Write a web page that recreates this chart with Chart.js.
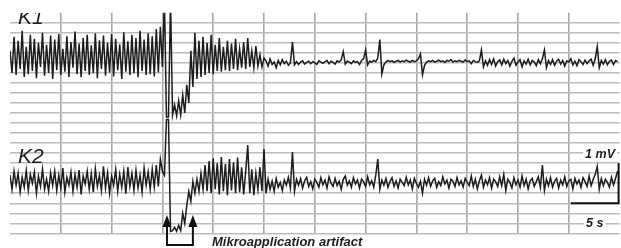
<!DOCTYPE html>
<html>
<head>
<meta charset="utf-8">
<script src="https://cdn.jsdelivr.net/npm/chart.js@4.4.1/dist/chart.umd.min.js"></script>
<style>
  html, body { margin: 0; padding: 0; background: #fff; }
</style>
</head>
<body>
<canvas id="trace" width="621" height="248"></canvas>
<script>
// Two recording channels, sampled every 0.2 s, values in mV around each channel's baseline

const sampleStep = 0.2;
const channelNames = ['K1', 'K2'];

const k1Values = [
    0.30, -0.25, 0.65, -0.30, 0.55, -0.15, 0.80, -0.35, 0.40, -0.28,
    0.70, -0.20, 0.60, -0.38, 0.50, -0.10, 0.75, -0.32, 0.45, -0.25,
    0.68, -0.40, 0.58, -0.18, 0.72, -0.30, 0.35, -0.22, 0.66, -0.35,
    0.52, -0.12, 0.78, -0.28, 0.48, -0.36, 0.62, -0.20, 0.70, -0.30,
    0.44, -0.26, 0.74, -0.38, 0.56, -0.15, 0.68, -0.32, 0.50, -0.24,
    0.72, -0.34, 0.60, -0.18, 0.46, -0.40, 0.76, -0.22, 0.54, -0.30,
    0.70, -0.26, 0.62, -0.36, 0.80, -0.20, 0.58, -0.30, 0.74, -0.28,
    0.66, -0.34, 0.84, -0.24, 0.90, -0.10, 1.60, -1.35, -1.35, 1.60,
    -1.30, -1.05, -1.32, -0.95, -1.30, -0.80, -1.25, -0.55, -1.00, 0.30,
    -0.60, 0.75, -0.40, 0.55, -0.35, 0.65, -0.30, 0.50, -0.25, 0.70,
    -0.28, 0.45, -0.20, 0.62, -0.22, 0.40, -0.18, 0.55, -0.20, 0.48,
    -0.15, 0.60, -0.18, 0.35, -0.12, 0.52, -0.15, 0.62, -0.10, 0.30,
    -0.12, 0.42, -0.08, 0.20, -0.10, 0.12, 0.05, -0.08, 0.10, -0.04,
    0.02, -0.12, 0.06, -0.05, 0.08, -0.02, 0.04, -0.06, 0.00, 0.52,
    -0.05, 0.03, -0.04, 0.02, 0.05, -0.03, 0.01, 0.04, -0.02, 0.03,
    0.00, -0.04, 0.05, 0.02, -0.01, 0.03, 0.06, -0.02, 0.04, 0.01,
    -0.03, 0.05, 0.02, 0.08, 0.28, -0.03, 0.04, 0.02, -0.02, 0.05,
    0.01, 0.03, -0.04, 0.06, 0.10, 0.32, -0.05, 0.04, 0.02, 0.06,
    0.03, 0.12, 0.58, -0.28, -0.05, 0.02, 0.06, 0.03, 0.05, 0.01,
    0.04, 0.06, 0.02, 0.05, 0.03, 0.07, 0.04, 0.02, 0.06, 0.03,
    0.05, 0.10, 0.22, -0.30, -0.06, 0.02, 0.05, 0.03, 0.06, 0.02,
    0.04, 0.07, 0.03, 0.05, 0.01, 0.06, 0.04, 0.08, 0.02, 0.05,
    0.03, 0.06, 0.04, 0.02, 0.07, 0.03, 0.05, -0.02, 0.06, 0.03,
    0.01, 0.05, 0.32, -0.10, 0.05, -0.06, 0.08, -0.04, 0.10, -0.08,
    0.03, 0.07, -0.05, 0.09, -0.02, 0.06, -0.08, 0.04, 0.12, -0.06,
    0.02, 0.08, -0.10, 0.05, -0.03, 0.09, -0.05, 0.06, 0.02, -0.07,
    0.08, -0.02, 0.10, 0.32, -0.12, 0.06, -0.04, 0.08, -0.06, 0.04,
    0.09, -0.03, 0.06, -0.08, 0.05, 0.02, 0.10, -0.05, 0.04, -0.07,
    0.08, 0.03, -0.04, 0.07, -0.02, 0.05, 0.09, -0.06, 0.10, 0.40,
    -0.12, 0.06, -0.03, 0.08, -0.05, 0.04, 0.07, -0.04, 0.06, 0.03
];

const k2Values = [
    0.20, -0.15, 0.30, -0.05, 0.25, -0.22, 0.15, -0.10, 0.32, -0.18,
    0.22, 0.00, 0.28, -0.25, 0.18, -0.08, 0.35, -0.15, 0.10, -0.20,
    0.26, -0.05, 0.30, -0.18, 0.20, -0.12, 0.38, -0.22, 0.15, -0.05,
    0.28, -0.20, 0.22, -0.10, 0.33, -0.28, 0.18, -0.02, 0.30, -0.15,
    0.24, -0.22, 0.36, -0.08, 0.20, -0.18, 0.42, -0.12, 0.26, -0.25,
    0.18, -0.05, 0.34, -0.20, 0.22, -0.10, 0.30, -0.26, 0.40, -0.08,
    0.25, -0.18, 0.32, -0.12, 0.20, -0.22, 0.38, -0.05, 0.28, -0.15,
    0.35, -0.10, 0.45, -0.08, 0.60, 0.30, 0.20, 1.59, 1.59, -1.20,
    -1.18, -1.10, -1.20, -1.05, -1.18, -0.75, -1.00, -0.55, -0.20, -0.45,
    0.05, -0.25, 0.10, -0.20, 0.25, -0.15, 0.45, -0.20, 0.55, -0.25,
    0.62, -0.15, 0.50, -0.28, 0.65, -0.20, 0.48, -0.30, 0.60, -0.18,
    0.52, -0.25, 0.64, -0.22, 0.40, -0.28, 0.30, 0.95, -0.25, 0.35,
    -0.30, 0.25, -0.15, 0.40, -0.20, 0.85, -0.25, 0.10, -0.15, 0.05,
    -0.20, 0.12, -0.10, 0.02, -0.18, 0.08, -0.05, 0.15, -0.12, 0.78,
    -0.20, 0.10, -0.05, 0.12, -0.12, 0.06, 0.15, -0.08, 0.04, -0.14,
    0.10, 0.02, -0.10, 0.14, -0.04, 0.08, -0.12, 0.16, 0.00, -0.08,
    0.12, -0.06, 0.05, -0.15, 0.10, 0.18, -0.05, 0.06, -0.10, 0.14,
    -0.02, 0.08, -0.12, 0.10, 0.04, -0.08, 0.16, -0.04, 0.06, -0.10,
    0.20, 0.60, -0.15, 0.08, -0.05, 0.12, -0.10, 0.04, 0.14, -0.08,
    0.06, -0.12, 0.10, 0.02, -0.06, 0.15, -0.04, 0.08, -0.14, 0.12,
    0.00, -0.10, 0.05, -0.25, 0.10, -0.05, 0.14, -0.08, 0.06, 0.12,
    -0.10, 0.04, -0.06, 0.16, -0.02, 0.08, -0.12, 0.10, 0.05, -0.08,
    0.14, -0.04, 0.06, -0.10, 0.12, 0.02, -0.06, 0.18, -0.08, 0.10,
    -0.14, 0.06, 0.20, -0.10, 0.08, -0.04, 0.14, -0.12, 0.10, 0.04,
    -0.08, 0.16, -0.06, 0.22, -0.18, 0.10, 0.02, -0.12, 0.14, -0.04,
    0.08, -0.10, 0.18, -0.06, 0.10, -0.14, 0.06, 0.12, -0.08, 0.04,
    0.16, -0.10, 0.45, -0.18, 0.10, -0.06, 0.14, -0.10, 0.05, 0.12,
    -0.12, 0.08, -0.04, 0.16, -0.08, 0.06, 0.10, -0.14, 0.12, -0.02,
    0.08, -0.10, 0.14, 0.04, -0.08, 0.18, -0.06, 0.10, 0.22, 0.42,
    -0.15, 0.12, -0.06, 0.10, 0.02, -0.10, 0.15, -0.04, 0.12, 0.30
];

// grid: 5 s per column, 0.25 mV per row
const timeRange = [0, 60];
const timeStep = 5;
const voltRange = [0, 5.5];
const voltStep = 0.25;

const scaleBarTime = 5;     // s
const scaleBarVolt = 1;     // mV
const scaleLabels = ['1 mV', '5 s'];
const artifactWindow = [15.45, 18.0];   // s
const artifactLabel = 'Mikroapplication artifact';

const FONT = '"Liberation Sans", Arial, sans-serif';

function toPoints(values, offset) {
    return values.map((v, i) => ({ x: i * sampleStep, y: v + offset }));
}

function drawBoxedText(ctx, text, x, y, align) {
    ctx.textAlign = align;
    const w = ctx.measureText(text).width;
    const left = align === 'right' ? x - w : x;
    ctx.fillStyle = '#ffffff';
    ctx.fillRect(left - 2, y - 11, w + 4, 13);
    ctx.fillStyle = '#1e1e1e';
    ctx.fillText(text, x, y);
}

function drawUpArrow(ctx, x, tipY, baseY) {
    ctx.beginPath();
    ctx.moveTo(x, tipY + 8);
    ctx.lineTo(x, baseY);
    ctx.stroke();
    ctx.beginPath();
    ctx.moveTo(x, tipY);
    ctx.lineTo(x - 4.5, tipY + 12);
    ctx.lineTo(x + 4.5, tipY + 12);
    ctx.closePath();
    ctx.fill();
}

const overlay = {
    id: 'overlay',
    afterDraw(chart) {
        const { ctx } = chart;
        const xs = chart.scales.x;
        const ys = chart.scales.y;
        ctx.save();

        // channel names (top of K1 is cut off in the source)
        ctx.fillStyle = '#1e1e1e';
        ctx.font = 'italic 21px ' + FONT;
        ctx.textAlign = 'left';
        ctx.save();
        ctx.beginPath();
        ctx.rect(0, 13, chart.width, chart.height);
        ctx.clip();
        ctx.fillText(channelNames[0], 18, 24);
        ctx.restore();
        ctx.fillText(channelNames[1], 18, 162.5);

        // calibration bar
        const xr = xs.getPixelForValue(timeRange[1]) - 1;
        const xl = xs.getPixelForValue(timeRange[1] - scaleBarTime) + 2;
        const yb = ys.getPixelForValue(0.75);
        const yt = ys.getPixelForValue(0.75 + scaleBarVolt);
        ctx.strokeStyle = '#111111';
        ctx.lineWidth = 2;
        ctx.beginPath();
        ctx.moveTo(xr, yt);
        ctx.lineTo(xr, yb);
        ctx.lineTo(xl, yb);
        ctx.stroke();

        ctx.font = 'bold italic 12.5px ' + FONT;
        drawBoxedText(ctx, scaleLabels[0], 615, 157.5, 'right');
        drawBoxedText(ctx, scaleLabels[1], 586, 227, 'left');

        // artifact markers
        const a1 = xs.getPixelForValue(artifactWindow[0]);
        const a2 = xs.getPixelForValue(artifactWindow[1]);
        ctx.fillStyle = '#111111';
        ctx.lineWidth = 2;
        drawUpArrow(ctx, a1, 215, 245);
        drawUpArrow(ctx, a2, 215, 245);
        ctx.beginPath();
        ctx.moveTo(a1 - 1, 245);
        ctx.lineTo(a2 + 1, 245);
        ctx.stroke();

        ctx.font = 'bold italic 13px ' + FONT;
        ctx.textAlign = 'left';
        ctx.fillStyle = '#1e1e1e';
        ctx.fillText(artifactLabel, 212, 246);

        ctx.restore();
    }
};

const clear = 'rgba(0,0,0,0)';

new Chart(document.getElementById('trace'), {
    type: 'line',
    data: {
        datasets: [
            {
                label: channelNames[0],
                data: toPoints(k1Values, 4.25),
                borderColor: '#1c1c1c',
                borderWidth: 1.5,
                pointRadius: 0,
                tension: 0
            },
            {
                label: channelNames[1],
                data: toPoints(k2Values, 1.25),
                borderColor: '#1c1c1c',
                borderWidth: 1.5,
                pointRadius: 0,
                tension: 0
            }
        ]
    },
    options: {
        responsive: false,
        animation: false,
        devicePixelRatio: 1,
        layout: { padding: { left: 10, right: 1.4, top: 12.7, bottom: 14.6 } },
        plugins: {
            legend: { display: false },
            tooltip: { enabled: false }
        },
        scales: {
            x: {
                type: 'linear',
                min: timeRange[0],
                max: timeRange[1],
                ticks: { stepSize: timeStep, display: false },
                grid: {
                    color: c => (c.tick && (c.tick.value === timeRange[0] || c.tick.value === timeRange[1])) ? clear : '#a8a8a8',
                    lineWidth: 1.6,
                    drawTicks: false
                },
                border: { display: false }
            },
            y: {
                min: voltRange[0],
                max: voltRange[1],
                ticks: { stepSize: voltStep, display: false },
                grid: {
                    color: c => (c.tick && c.tick.value >= voltRange[1]) ? clear : '#bcbcbc',
                    lineWidth: 1.6,
                    drawTicks: false
                },
                border: { display: false }
            }
        }
    },
    plugins: [overlay]
});
</script>
</body>
</html>
